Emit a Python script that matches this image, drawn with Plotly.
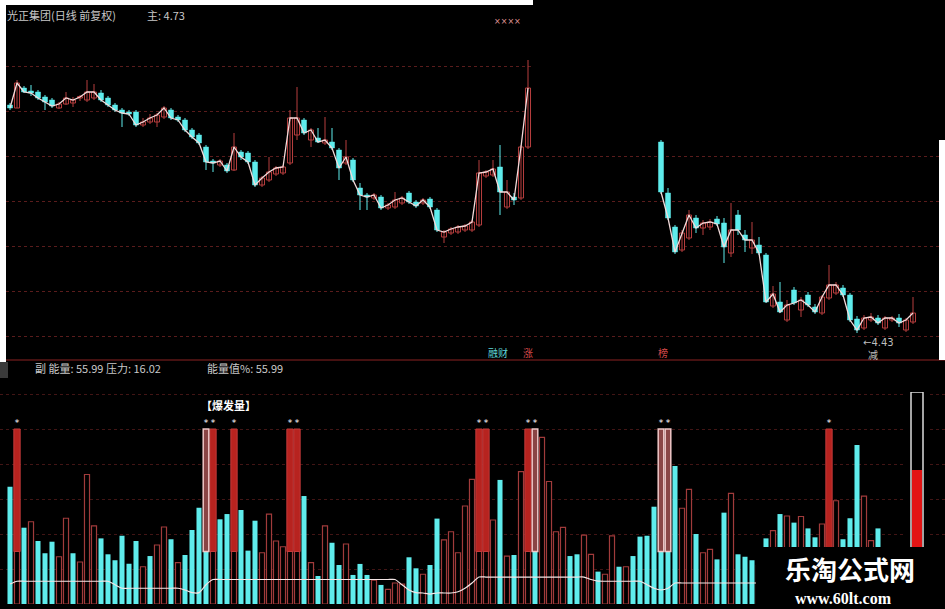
import plotly.graph_objects as go

# ---------------- data ----------------
# main panel, segment 1 (daily candles)
seg1_open = [8.99, 8.93, 9.33, 9.27, 9.25, 9.15, 9.09, 8.93, 9.01, 9.03,
             9.13, 9.09, 9.13, 9.23, 9.13, 8.99, 8.89, 8.85, 8.85, 8.59,
             8.65, 8.65, 8.75, 8.89, 8.75, 8.69, 8.49, 8.39, 8.15, 7.87,
             7.79, 7.79, 7.69, 8.05, 8.03, 7.85, 7.39, 7.49, 7.61, 7.63,
             7.83, 8.39, 8.69, 8.29, 8.33, 8.23, 8.25, 8.09, 7.83, 7.89,
             7.33, 7.19, 7.13, 7.15, 6.93, 6.95, 7.03, 7.23, 7.05, 7.03,
             7.11, 6.89, 6.35, 6.43, 6.45, 6.49, 6.49, 6.59, 7.57, 7.59,
             7.75, 6.95, 7.15, 7.13, 8.15]
seg1_high = [9.03, 9.49, 9.37, 9.39, 9.29, 9.19, 9.13, 9.05, 9.25, 9.15,
             9.19, 9.49, 9.41, 9.29, 9.17, 9.03, 8.93, 8.89, 8.89, 8.73,
             8.81, 8.83, 8.97, 8.93, 8.79, 8.73, 8.53, 8.43, 8.19, 7.91,
             7.91, 7.83, 8.43, 8.09, 8.07, 7.89, 7.57, 7.95, 7.77, 7.79,
             8.89, 9.35, 8.73, 8.53, 8.53, 8.75, 8.53, 8.13, 8.29, 7.93,
             7.43, 7.23, 7.23, 7.19, 7.03, 7.25, 7.17, 7.27, 7.09, 7.13,
             7.15, 6.93, 6.49, 6.55, 6.59, 6.61, 6.69, 7.89, 7.69, 7.89,
             8.19, 7.49, 7.23, 8.19, 9.89]
seg1_low = [8.89, 8.93, 9.23, 9.17, 9.09, 8.89, 8.93, 8.91, 8.99, 8.95,
            9.07, 9.05, 9.09, 9.05, 8.95, 8.85, 8.55, 8.77, 8.55, 8.55,
            8.61, 8.55, 8.71, 8.69, 8.65, 8.45, 8.31, 8.19, 7.69, 7.65,
            7.75, 7.63, 7.67, 7.89, 7.81, 7.35, 7.35, 7.45, 7.57, 7.59,
            7.79, 8.29, 8.39, 8.15, 8.23, 8.19, 8.09, 7.49, 7.79, 7.45,
            6.89, 6.89, 7.09, 6.89, 6.89, 6.91, 6.99, 7.01, 6.93, 6.99,
            6.91, 6.45, 6.23, 6.39, 6.41, 6.45, 6.45, 6.55, 7.53, 7.55,
            6.79, 6.91, 6.99, 7.09, 8.11]
seg1_close = [8.93, 9.43, 9.25, 9.23, 9.13, 9.05, 8.97, 9.01, 9.13, 9.09,
              9.15, 9.25, 9.25, 9.09, 8.99, 8.89, 8.83, 8.81, 8.59, 8.65,
              8.73, 8.79, 8.93, 8.73, 8.69, 8.49, 8.35, 8.23, 7.85, 7.83,
              7.87, 7.67, 8.15, 7.95, 7.85, 7.39, 7.53, 7.65, 7.73, 7.75,
              8.73, 8.73, 8.43, 8.49, 8.25, 8.29, 8.13, 7.73, 7.95, 7.49,
              7.19, 7.15, 7.19, 6.93, 6.99, 7.09, 7.13, 7.05, 6.97, 7.09,
              6.95, 6.49, 6.45, 6.51, 6.55, 6.57, 6.65, 7.63, 7.65, 7.71,
              7.25, 7.25, 7.09, 8.15, 9.33]

# main panel, segment 2
seg2_first_day = 93
seg2_open = [8.25, 7.23, 6.55, 6.09, 6.33, 6.73, 6.53, 6.55, 6.71, 6.63,
             6.03, 6.79, 6.39, 6.13, 6.19, 5.99, 4.97, 5.05, 4.69, 5.29,
             4.89, 5.19, 4.95, 4.83, 5.13, 5.23, 5.33, 5.19, 4.71, 4.53,
             4.69, 4.73, 4.53, 4.69, 4.73, 4.49, 4.65]
seg2_high = [8.29, 7.33, 6.59, 6.49, 6.89, 6.79, 6.69, 6.71, 6.77, 6.73,
             7.03, 6.89, 6.49, 6.65, 6.35, 6.03, 5.37, 5.45, 5.09, 5.35,
             5.15, 5.25, 5.01, 5.19, 5.79, 5.45, 5.39, 5.23, 4.77, 4.79,
             4.83, 4.79, 4.77, 4.77, 4.81, 4.73, 5.15]
seg2_low = [7.21, 6.69, 6.01, 6.05, 6.29, 6.43, 6.39, 6.49, 6.57, 5.83,
            5.95, 6.39, 6.05, 6.01, 5.99, 5.03, 4.93, 4.83, 4.65, 4.99,
            4.75, 4.95, 4.81, 4.79, 5.09, 5.19, 5.15, 4.65, 4.43, 4.49,
            4.65, 4.59, 4.49, 4.65, 4.55, 4.45, 4.61]
seg2_close = [7.25, 6.73, 6.05, 6.43, 6.79, 6.53, 6.63, 6.65, 6.61, 6.15,
              6.49, 6.49, 6.29, 6.29, 6.03, 5.05, 5.21, 4.85, 4.99, 5.03,
              5.09, 4.99, 4.85, 5.15, 5.39, 5.39, 5.19, 4.69, 4.49, 4.73,
              4.75, 4.63, 4.73, 4.73, 4.63, 4.69, 4.83]

# sub panel (energy)
vol_vals = [67, 30, 43.6, 47, 36, 29, 35.6, 27, 49, 29,
            24, 74, 44.6, 37.5, 28.4, 25, 39, 23, 36, 21.3,
            27.4, 33.7, 44, 37, 23.6, 28, 42.3, 55, 30, 30,
            48.4, 51.4, 30, 53.7, 30.5, 47.6, 29.3, 51.4, 36, 32.7,
            30, 30, 61.7, 23.6, 16, 44.6, 35, 22.3, 34.3, 16.6,
            22.9, 16.6, 13.7, 10.9, 8.4, 12, 11.4, 26.7, 20.4, 17,
            22.3, 48.8, 36.6, 41.3, 29.3, 56, 71.2, 30, 30, 48,
            70.9, 27.4, 28, 75.6, 30, 30, 95.2, 70, 41.3, 43.8,
            27.4, 28.4, 39.4, 28.4, 18.5, 17, 38.9, 21.3, 21.3, 27.4,
            38.5, 39, 55.6, 30, 30, 78.9, 54.7, 65.5, 40, 29.3,
            31.2, 25.5, 52.2, 63.2, 28.4, 27, 25, 22, 37.5, 41.9,
            51.4, 50.3, 46.5, 50, 43.2, 38.1, 45.7, 30, 59, 37,
            49, 90.9, 61.7, 36.2, 43.2]
vol_kind = list("crcrcccrrc" "rrrccccccr" "crrcrccccr" "ccrcccrrrr"
                "rrcrcrccrc" "ccrcrrrccr" "ccrrrrrrrr" "crcrrcrrrr"
                "ccrrcrrcrc" "ccccccrrcr" "rccrcccrcr" "crcrccrrrc" "ccrrc")
line_vals = [11.4, 13, 13, 13, 13, 13, 13, 13, 13, 13,
             13, 13, 13, 13, 13, 11, 9, 9, 9, 9,
             9, 9, 9, 9, 9, 8, 6.5, 6.5, 11, 14,
             14, 14, 14, 14, 14, 14, 14, 14, 14, 14,
             14, 14, 14, 14, 14, 14, 14, 14, 14, 14,
             14, 14, 14, 14, 14, 14, 11, 8, 6.5, 6.3,
             5.7, 6.3, 6.3, 6.3, 7, 9, 12, 15.4, 15.4, 15.4,
             15.4, 15.4, 15.4, 15.4, 15.4, 15.4, 15.4, 15.4, 15.4, 15.4,
             15.4, 15.4, 15.4, 14, 13.1, 13, 13, 13, 13, 13,
             13, 11, 9, 8, 9, 12, 12, 12, 12, 12,
             12, 12, 12, 12, 12, 12, 12, 12, 12, 12,
             12, 12, 12, 12, 12, 12, 12, 12, 12, 12,
             12, 12, 12, 12, 12]
burst_red_days = [1, 29, 32, 40, 41, 67, 68, 74, 117]
burst_white_days = [28, 75, 93, 94]
burst_low, burst_high = 30, 100
star_level = 103
energy_pct = 55.99
gauge_full = 100

# ---------------- styling ----------------
W, H = 945, 609
CYAN = "#5fecec"
RED = "#b73e3e"
HOLLOW = "#a13b3b"
BURST = "#b7231f"
GRID = "#5a1c1c"
CJK = "Noto Sans CJK SC"


def px(x):
    return x / W


def py(y):
    return 1 - y / H


fig = go.Figure()

# ----- candles -----
opens = seg1_open + seg2_open
highs = seg1_high + seg2_high
lows = seg1_low + seg2_low
closes = seg1_close + seg2_close
days = list(range(len(seg1_open))) + list(range(seg2_first_day, seg2_first_day + len(seg2_open)))
up = [k for k in range(len(days)) if closes[k] >= opens[k]]
dn = [k for k in range(len(days)) if closes[k] < opens[k]]


def wicks(idx):
    xs, ys = [], []
    for k in idx:
        xs += [days[k], days[k], None]
        ys += [lows[k], highs[k], None]
    return xs, ys


for idx, col in ((up, RED), (dn, CYAN)):
    xs, ys = wicks(idx)
    fig.add_trace(go.Scatter(x=xs, y=ys, mode="lines", line=dict(color=col, width=1),
                             xaxis="x", yaxis="y", hoverinfo="skip"))

fig.add_trace(go.Bar(x=[days[k] for k in up],
                     y=[max(closes[k] - opens[k], 0.03) for k in up],
                     base=[opens[k] for k in up], width=0.72,
                     marker=dict(color="black", line=dict(color=RED, width=1)),
                     xaxis="x", yaxis="y"))
fig.add_trace(go.Bar(x=[days[k] for k in dn],
                     y=[opens[k] - closes[k] for k in dn],
                     base=[closes[k] for k in dn], width=0.72,
                     marker=dict(color=CYAN, line=dict(color=CYAN, width=0.5)),
                     xaxis="x", yaxis="y"))

n1 = len(seg1_close)
line_x = days[:n1] + [None] + days[n1:]
line_y = closes[:n1] + [None] + closes[n1:]
fig.add_trace(go.Scatter(x=line_x, y=line_y, mode="lines",
                         line=dict(color="#f2dada", width=1.3),
                         xaxis="x", yaxis="y", hoverinfo="skip"))

# ----- energy bars -----
vdays = list(range(len(vol_vals)))
cx = [d for d in vdays if vol_kind[d] == "c"]
rx = [d for d in vdays if vol_kind[d] == "r"]
fig.add_trace(go.Bar(x=rx, y=[vol_vals[d] for d in rx], width=0.72,
                     marker=dict(color="black", line=dict(color=HOLLOW, width=1.2)),
                     xaxis="x2", yaxis="y2"))
fig.add_trace(go.Bar(x=cx, y=[vol_vals[d] for d in cx], width=0.72,
                     marker=dict(color=CYAN, line=dict(width=0)),
                     xaxis="x2", yaxis="y2"))
fig.add_trace(go.Bar(x=burst_red_days, y=[burst_high - burst_low] * len(burst_red_days),
                     base=burst_low, width=0.9,
                     marker=dict(color=BURST, line=dict(color="#c23a3a", width=1)),
                     xaxis="x2", yaxis="y2"))
fig.add_trace(go.Bar(x=burst_white_days, y=[burst_high - burst_low] * len(burst_white_days),
                     base=burst_low, width=0.8,
                     marker=dict(color="#8a4545", line=dict(color="#f0c8c8", width=1.5)),
                     xaxis="x2", yaxis="y2"))
fig.add_trace(go.Scatter(x=vdays, y=line_vals, mode="lines",
                         line=dict(color="#f4e6e6", width=1.2, shape="spline", smoothing=0.6),
                         xaxis="x2", yaxis="y2", hoverinfo="skip"))
stars = sorted(burst_red_days + burst_white_days)
fig.add_trace(go.Scatter(x=stars, y=[star_level] * len(stars), mode="text", text=["*"] * len(stars),
                         textposition="middle center",
                         textfont=dict(color="white", size=9, family="DejaVu Sans"),
                         xaxis="x2", yaxis="y2", hoverinfo="skip"))

# ----- gauge -----
fig.add_trace(go.Bar(x=[0], y=[gauge_full], width=0.5,
                     marker=dict(color="black", line=dict(color="#dcdcdc", width=1.5)),
                     xaxis="x3", yaxis="y3"))
fig.add_trace(go.Bar(x=[0], y=[energy_pct], width=0.42,
                     marker=dict(color="#e31414", line=dict(width=0)),
                     xaxis="x3", yaxis="y3"))

xr = [-10 / 7, 935 / 7]
fig.update_layout(
    width=W, height=H, margin=dict(l=0, r=0, t=0, b=0),
    paper_bgcolor="black", plot_bgcolor="black", showlegend=False,
    barmode="overlay", hovermode=False,
    xaxis=dict(domain=[0, 1], range=xr, visible=False, anchor="y"),
    yaxis=dict(domain=[py(360), py(40)], range=[3.89, 10.29], showticklabels=False,
               ticks="", showgrid=True, gridcolor=GRID, griddash="dot", gridwidth=1,
               zeroline=False, tick0=4.37, dtick=0.9, anchor="x"),
    xaxis2=dict(domain=[0, 1], range=xr, visible=False, anchor="y2"),
    yaxis2=dict(domain=[py(604), py(380)], range=[0, 128], showticklabels=False,
                ticks="", showgrid=True, gridcolor="#421515", griddash="dot", gridwidth=1,
                zeroline=False, tick0=0, dtick=20, anchor="x2"),
    xaxis3=dict(domain=[px(905), px(929)], range=[-0.5, 0.5], visible=False, anchor="y3"),
    yaxis3=dict(domain=[py(569), py(392)], range=[0, 100], visible=False, anchor="x3"),
)


def rect(x0, y0, x1, y1, color, layer="above"):
    fig.add_shape(type="rect", xref="paper", yref="paper", x0=px(x0), x1=px(x1),
                  y0=py(y1), y1=py(y0), fillcolor=color, line=dict(width=0), layer=layer)


# separator between panels
fig.add_shape(type="line", xref="paper", yref="paper", x0=0, x1=1, y0=py(360), y1=py(360),
              line=dict(color="#8c2222", width=1), layer="above")
rect(533, 0, 945, 135, "black")
rect(0, 0, 533, 5, "white")
rect(0, 0, 6, 362, "white")
rect(939, 140, 945, 360, "white")
rect(0, 362, 8, 378, "#3a3a3a")
rect(756, 547, 945, 609, "black")


def label(x, y, text, size=11, color="#c8c8c8", family=CJK, anchor="left"):
    fig.add_annotation(x=px(x), y=py(y), xref="paper", yref="paper", text=text,
                       showarrow=False, xanchor=anchor, yanchor="middle",
                       font=dict(size=size, color=color, family=family))


label(5, 15, "光正集团(日线 前复权)")
label(145, 15, "主: 4.73")
label(492, 22, "××××", size=8, color="#e39a9a", family="DejaVu Sans")
label(33, 368, "副 能量: 55.99 压力: 16.02")
label(205, 368, "能量值%: 55.99")
label(199, 405, "<b>【爆发量】</b>", size=11, color="white")
label(486, 352, "融财", size=10, color="#5fd6d6")
label(521, 352, "涨", size=10, color="#d24848")
label(656, 352, "榜", size=10, color="#d24848")
label(861, 342, "←4.43", size=10, color="#bdbdbd", family="DejaVu Sans")
label(866, 354, "减", size=10, color="#bdbdbd")
label(850, 568, "<b>乐淘公式网</b>", size=26, color="white", anchor="center")
label(843, 598, "<b>www.60lt.com</b>", size=16, color="white", family="Liberation Serif", anchor="center")

fig.write_html("out.html", config={"displayModeBar": False},
               post_script="document.body.style.margin='0px';document.body.style.overflow='hidden';")
